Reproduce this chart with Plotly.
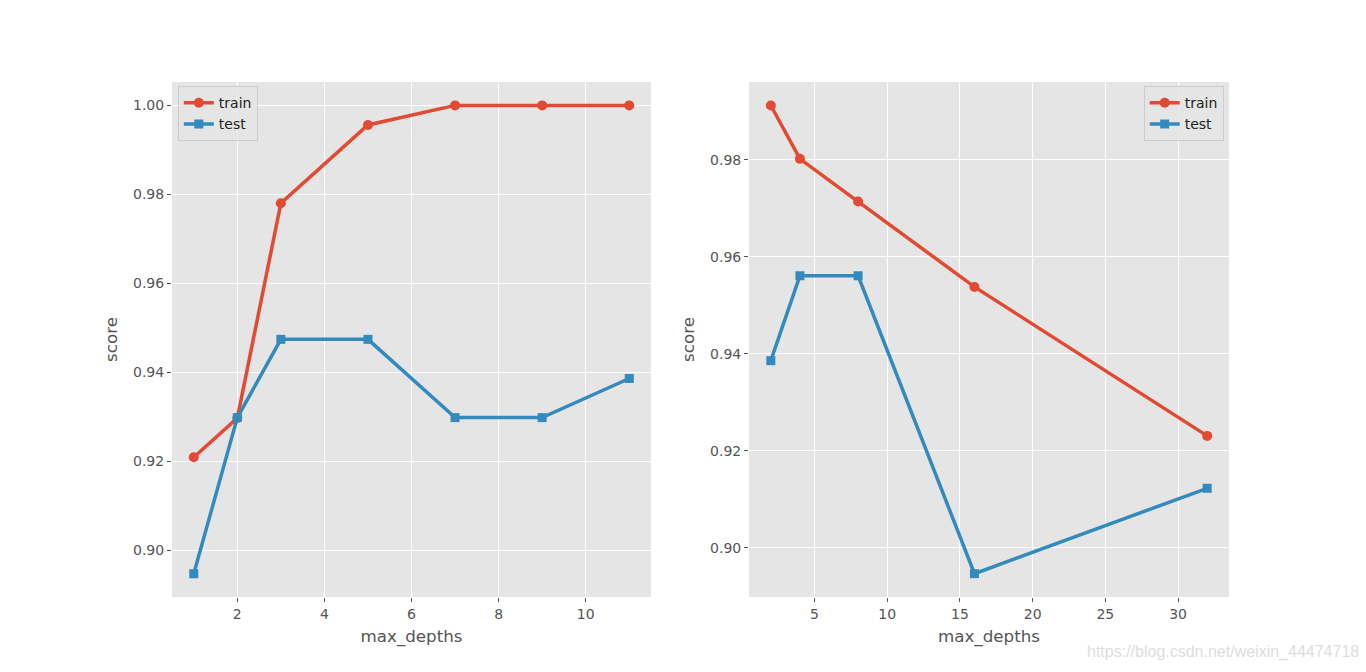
import plotly.graph_objects as go
from plotly.subplots import make_subplots

# Left panel data
depths_left = [1, 2, 3, 5, 7, 9, 11]
train_left = [0.9209, 0.9297, 0.9780, 0.9956, 1.0, 1.0, 1.0]
test_left = [0.8947, 0.9298, 0.9474, 0.9474, 0.9298, 0.9298, 0.9386]

# Right panel data
depths_right = [2, 4, 8, 16, 32]
train_right = [0.9912, 0.9802, 0.9714, 0.9538, 0.9231]
test_right = [0.9386, 0.9561, 0.9561, 0.8947, 0.9123]

RED = "#E24A33"
BLUE = "#348ABD"
GREY = "#555555"
FONT = "DejaVu Sans"

fig = make_subplots(rows=1, cols=2, horizontal_spacing=0.0927)

def add(x, y, name, color, symbol, col, legend):
    fig.add_trace(go.Scatter(
        x=x, y=y, name=name, mode="lines+markers",
        line=dict(color=color, width=3.5),
        marker=dict(color=color, size=10 if symbol == "circle" else 9, symbol=symbol),
        legend=legend,
    ), row=1, col=col)

add(depths_left, train_left, "train", RED, "circle", 1, "legend")
add(depths_left, test_left, "test", BLUE, "square", 1, "legend")
add(depths_right, train_right, "train", RED, "circle", 2, "legend2")
add(depths_right, test_right, "test", BLUE, "square", 2, "legend2")

axis_common = dict(
    showgrid=True, gridcolor="white", gridwidth=1,
    zeroline=False, showline=False,
    ticks="outside", ticklen=4, tickwidth=1, tickcolor=GREY,
    tickfont=dict(family=FONT, size=14, color=GREY),
)

title_font = dict(family=FONT, size=16.7, color=GREY)

fig.update_xaxes(**axis_common)
fig.update_yaxes(**axis_common)

fig.update_xaxes(range=[0.5, 11.5], tickvals=[2, 4, 6, 8, 10], domain=[0, 0.4532],
                 title=dict(text="max_depths", font=title_font, standoff=9),
                 row=1, col=1)
fig.update_xaxes(range=[0.5, 33.5], tickvals=[5, 10, 15, 20, 25, 30], domain=[0.5459, 1],
                 title=dict(text="max_depths", font=title_font, standoff=9),
                 row=1, col=2)
fig.update_yaxes(range=[0.88947, 1.00526], tickvals=[0.90, 0.92, 0.94, 0.96, 0.98, 1.00],
                 tickformat=".2f",
                 title=dict(text="score", font=title_font, standoff=11),
                 row=1, col=1)
fig.update_yaxes(range=[0.88989, 0.99604], tickvals=[0.90, 0.92, 0.94, 0.96, 0.98],
                 tickformat=".2f",
                 title=dict(text="score", font=title_font, standoff=11),
                 row=1, col=2)

legend_style = dict(
    bgcolor="rgba(229,229,229,0.8)", bordercolor="#CCCCCC", borderwidth=1,
    font=dict(family=FONT, size=14, color="#222222"),
    tracegroupgap=0, itemwidth=30,
)

fig.update_layout(
    width=1366, height=672,
    paper_bgcolor="white", plot_bgcolor="#E5E5E5",
    margin=dict(l=172, r=137, t=82, b=75),
    showlegend=True,
    legend=dict(x=0.0055, y=0.992, xanchor="left", yanchor="top", **legend_style),
    legend2=dict(x=0.995, y=0.992, xanchor="right", yanchor="top", **legend_style),
    font=dict(family=FONT),
    annotations=[dict(
        text="https://blog.csdn.net/weixin_44474718", xref="paper", yref="paper",
        x=1.125, y=-0.085, xanchor="right", yanchor="top", showarrow=False,
        font=dict(family="Liberation Sans", size=16, color="#DDDDDD"),
    )],
)

fig.write_html("out.html")
